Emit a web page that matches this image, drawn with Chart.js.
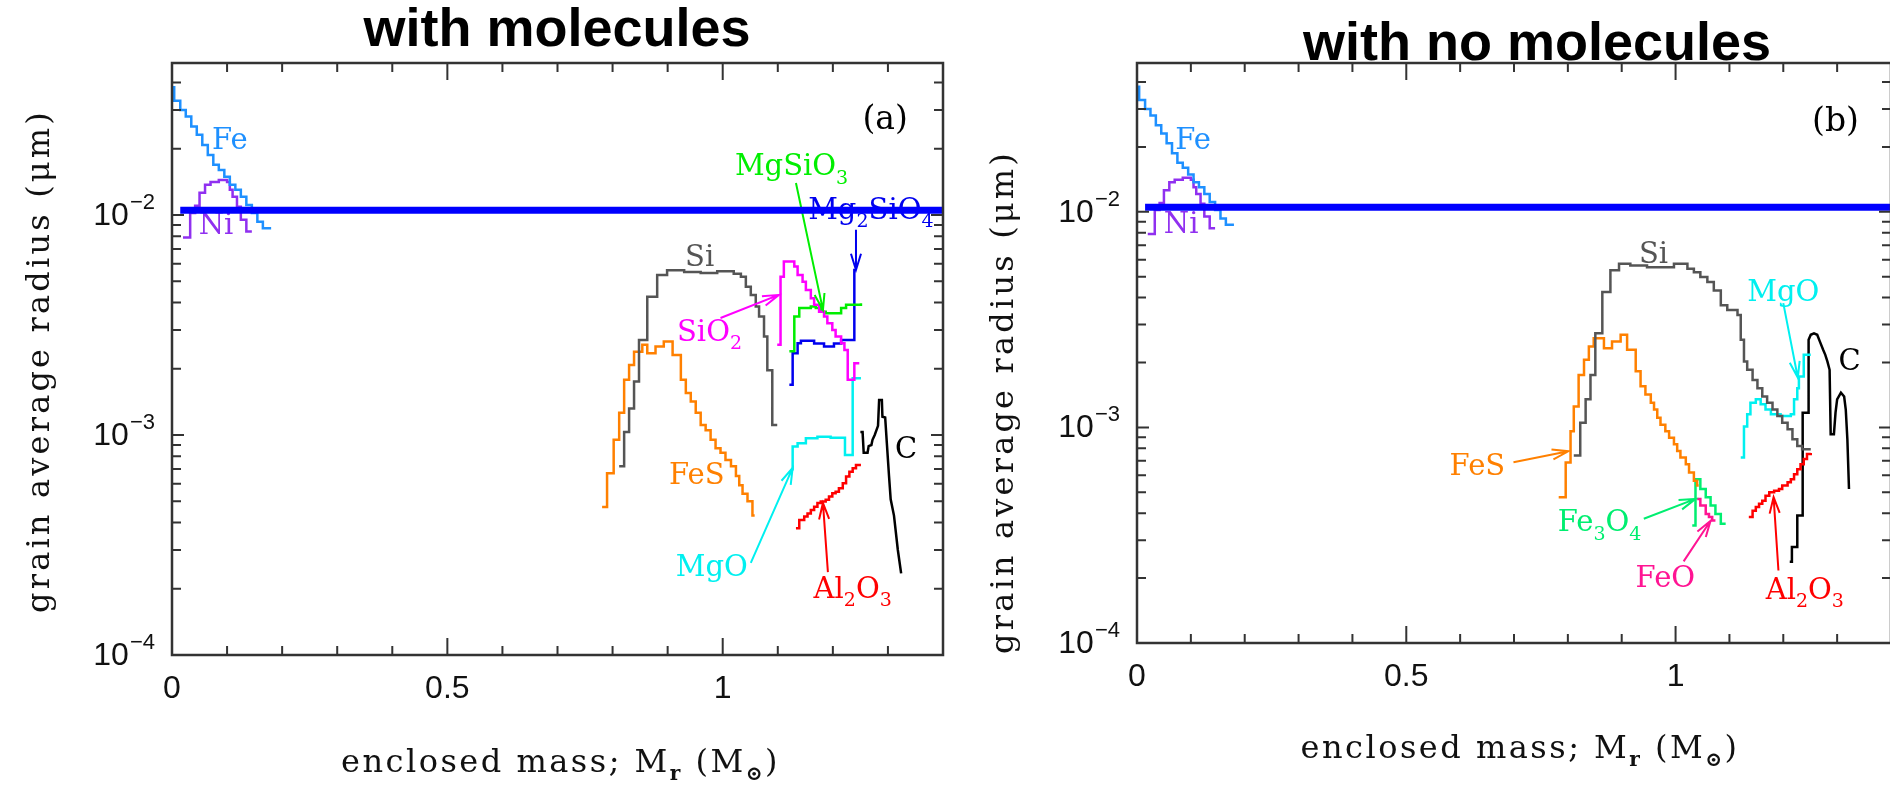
<!DOCTYPE html>
<html lang="en">
<head>
    <meta charset="UTF-8">
    <title>Grain average radius</title>
    <script src="https://cdn.jsdelivr.net/npm/chart.js"></script>
    <style>
        * { margin: 0; padding: 0; box-sizing: border-box; }
        body {
            background: #ffffff;
            width: 1890px;
            height: 785px;
            overflow: hidden;
            position: relative;
        }
        canvas { position: absolute; top: 0; }
        #chartA { left: 0; }
        #chartB { left: 960px; }
    </style>
</head>
<body>
    <canvas id="chartA" width="960" height="785"></canvas>
    <canvas id="chartB" width="935" height="785"></canvas>

    <script>
        // axis ticks
        const xMajorTicks = [0, 0.5, 1];
        const xTickLabels = ['0', '0.5', '1'];
        const yMajorTicks = [1e-4, 1e-3, 1e-2];
        const yTickExps = ['\u22124', '\u22123', '\u22122'];

        // thick reference line (both panels)
        const refMass = [0.015, 1.4];
        const refRadius = [0.0105, 0.0105];

        // Fe and Ni (same in both panels)
        const feMass = [0, 0.004, 0.015, 0.025, 0.035, 0.045, 0.055, 0.065, 0.075, 0.085, 0.095, 0.105, 0.115, 0.125, 0.135, 0.145, 0.155, 0.165, 0.18];
        const feRadius = [0.038, 0.033, 0.030, 0.028, 0.0252, 0.0231, 0.0208, 0.0187, 0.0169, 0.016, 0.0149, 0.0137, 0.013, 0.0121, 0.0111, 0.0102, 0.0093, 0.0087, 0.0087];
        const niMass = [0.02, 0.033, 0.042, 0.05, 0.06, 0.07, 0.085, 0.10, 0.105, 0.11, 0.118, 0.125, 0.135, 0.145];
        const niRadius = [0.0079, 0.0102, 0.011, 0.0126, 0.0137, 0.0141, 0.0144, 0.0141, 0.0130, 0.0121, 0.0109, 0.0095, 0.0084, 0.0084];

        // panel (a): with molecules
        const siMassA = [0.812, 0.821, 0.830, 0.839, 0.848, 0.863, 0.881, 0.899, 0.93, 0.96, 0.99, 1.02, 1.033, 1.042, 1.051, 1.06, 1.066, 1.075, 1.081, 1.09, 1.099];
        const siRadiusA = [7.2e-4, 1.03e-3, 1.32e-3, 1.75e-3, 2.7e-3, 4.25e-3, 5.33e-3, 5.6e-3, 5.5e-3, 5.45e-3, 5.55e-3, 5.4e-3, 5.24e-3, 4.72e-3, 4.33e-3, 3.83e-3, 3.45e-3, 2.8e-3, 1.97e-3, 1.11e-3, 1.11e-3];
        const fesMassA = [0.781, 0.790, 0.802, 0.812, 0.821, 0.830, 0.839, 0.854, 0.863, 0.878, 0.893, 0.909, 0.924, 0.933, 0.942, 0.951, 0.960, 0.969, 0.978, 0.987, 0.996, 1.005, 1.015, 1.024, 1.030, 1.036, 1.045, 1.054, 1.058];
        const fesRadiusA = [4.7e-4, 6.7e-4, 9.5e-4, 1.26e-3, 1.78e-3, 2.08e-3, 2.39e-3, 2.57e-3, 2.35e-3, 2.52e-3, 2.66e-3, 2.31e-3, 1.78e-3, 1.55e-3, 1.42e-3, 1.26e-3, 1.11e-3, 1.05e-3, 9.5e-4, 8.7e-4, 8.3e-4, 7.7e-4, 7.2e-4, 6.5e-4, 5.9e-4, 5.4e-4, 5.0e-4, 4.3e-4, 4.3e-4];
        const sio2MassA = [1.099, 1.105, 1.111, 1.121, 1.130, 1.136, 1.145, 1.151, 1.160, 1.166, 1.175, 1.184, 1.190, 1.199, 1.205, 1.215, 1.221, 1.227, 1.239, 1.248];
        const sio2RadiusA = [2.57e-3, 5.24e-3, 6.14e-3, 6.14e-3, 5.82e-3, 5.33e-3, 4.97e-3, 4.56e-3, 4.18e-3, 3.9e-3, 3.63e-3, 3.45e-3, 3.22e-3, 3.0e-3, 2.8e-3, 2.61e-3, 2.43e-3, 1.78e-3, 2.12e-3, 2.12e-3];
        const mgsio3MassA = [1.121, 1.130, 1.139, 1.160, 1.169, 1.178, 1.187, 1.209, 1.215, 1.224, 1.251];
        const mgsio3RadiusA = [2.4e-3, 3.45e-3, 3.77e-3, 3.83e-3, 3.77e-3, 3.63e-3, 3.57e-3, 3.57e-3, 3.77e-3, 3.9e-3, 3.97e-3];
        const mg2sio4MassA = [1.121, 1.127, 1.136, 1.142, 1.166, 1.184, 1.202, 1.215, 1.239, 1.242];
        const mg2sio4RadiusA = [1.69e-3, 2.35e-3, 2.61e-3, 2.68e-3, 2.6e-3, 2.52e-3, 2.6e-3, 2.7e-3, 5.62e-3, 5.62e-3];
        const mgoMassA = [1.127, 1.127, 1.136, 1.151, 1.172, 1.196, 1.222, 1.236, 1.251];
        const mgoRadiusA = [6.9e-4, 8.86e-4, 9.17e-4, 9.66e-4, 9.8e-4, 9.7e-4, 8.1e-4, 1.81e-3, 1.81e-3];
        const al2o3MassA = [1.133, 1.139, 1.148, 1.154, 1.160, 1.166, 1.172, 1.178, 1.187, 1.193, 1.199, 1.205, 1.211, 1.218, 1.224, 1.230, 1.236, 1.242, 1.251];
        const al2o3RadiusA = [3.77e-4, 4.11e-4, 4.26e-4, 4.4e-4, 4.56e-4, 4.72e-4, 4.9e-4, 4.98e-4, 5.07e-4, 5.25e-4, 5.43e-4, 5.52e-4, 5.73e-4, 6.03e-4, 6.47e-4, 6.81e-4, 7.05e-4, 7.31e-4, 7.31e-4];
        const cMassA = [1.250, 1.254, 1.256, 1.263, 1.265, 1.270, 1.272, 1.276, 1.282, 1.284, 1.289, 1.290, 1.295, 1.298, 1.302, 1.305, 1.311, 1.318, 1.324];
        const cRadiusA = [1.03e-3, 1.03e-3, 8.3e-4, 8.3e-4, 8.9e-4, 9.0e-4, 9.5e-4, 1.0e-3, 1.1e-3, 1.44e-3, 1.44e-3, 1.21e-3, 1.2e-3, 9.2e-4, 6.5e-4, 5.1e-4, 4.3e-4, 3.0e-4, 2.35e-4];

        // panel (b): with no molecules
        const siMassB = [0.811, 0.823, 0.833, 0.842, 0.851, 0.864, 0.879, 0.895, 0.916, 0.947, 0.997, 1.022, 1.034, 1.046, 1.059, 1.071, 1.084, 1.096, 1.115, 1.121, 1.127, 1.133, 1.143, 1.152, 1.161, 1.170, 1.180, 1.189, 1.198, 1.208, 1.217, 1.226, 1.235, 1.251];
        const siRadiusB = [7.4e-4, 1.05e-3, 1.35e-3, 1.75e-3, 2.73e-3, 4.25e-3, 5.35e-3, 5.74e-3, 5.64e-3, 5.53e-3, 5.74e-3, 5.45e-3, 5.25e-3, 4.98e-3, 4.72e-3, 4.32e-3, 3.69e-3, 3.5e-3, 3.32e-3, 2.55e-3, 2.02e-3, 1.85e-3, 1.66e-3, 1.52e-3, 1.39e-3, 1.3e-3, 1.21e-3, 1.13e-3, 1.05e-3, 9.8e-4, 8.8e-4, 8.2e-4, 7.92e-4, 7.92e-4];
        const fesMassB = [0.783, 0.796, 0.805, 0.811, 0.820, 0.830, 0.839, 0.848, 0.867, 0.882, 0.898, 0.910, 0.926, 0.935, 0.944, 0.954, 0.960, 0.966, 0.972, 0.981, 0.988, 0.997, 1.003, 1.009, 1.019, 1.025, 1.034, 1.040, 1.043];
        const fesRadiusB = [4.74e-4, 6.88e-4, 9.6e-4, 1.25e-3, 1.75e-3, 2.06e-3, 2.37e-3, 2.59e-3, 2.33e-3, 2.5e-3, 2.69e-3, 2.29e-3, 1.82e-3, 1.55e-3, 1.42e-3, 1.3e-3, 1.21e-3, 1.11e-3, 1.03e-3, 9.6e-4, 8.95e-4, 8.35e-4, 7.78e-4, 7.25e-4, 6.75e-4, 6.17e-4, 5.65e-4, 5.37e-4, 5.37e-4];
        const fe3o4MassB = [1.031, 1.037, 1.046, 1.056, 1.065, 1.074, 1.084, 1.093];
        const fe3o4RadiusB = [3.51e-4, 5.75e-4, 5.18e-4, 4.74e-4, 4.34e-4, 3.97e-4, 3.57e-4, 3.57e-4];
        const feoMassB = [1.040, 1.046, 1.056, 1.062, 1.068, 1.074];
        const feoRadiusB = [4.66e-4, 4.34e-4, 3.97e-4, 3.84e-4, 3.7e-4, 3.7e-4];
        const mgoMassB = [1.121, 1.127, 1.133, 1.139, 1.149, 1.158, 1.167, 1.177, 1.195, 1.214, 1.220, 1.226, 1.229, 1.235, 1.238, 1.251];
        const mgoRadiusB = [7.25e-4, 1.01e-3, 1.15e-3, 1.3e-3, 1.35e-3, 1.28e-3, 1.21e-3, 1.15e-3, 1.13e-3, 1.15e-3, 1.35e-3, 1.52e-3, 1.72e-3, 1.72e-3, 2.17e-3, 2.17e-3];
        const al2o3MassB = [1.136, 1.143, 1.149, 1.155, 1.161, 1.167, 1.174, 1.183, 1.192, 1.198, 1.208, 1.214, 1.220, 1.226, 1.232, 1.238, 1.244, 1.251];
        const al2o3RadiusB = [3.84e-4, 4.11e-4, 4.27e-4, 4.42e-4, 4.57e-4, 4.82e-4, 5.0e-4, 5.08e-4, 5.18e-4, 5.37e-4, 5.56e-4, 5.75e-4, 6.07e-4, 6.4e-4, 6.75e-4, 7.13e-4, 7.52e-4, 7.6e-4];
        const cMassB = [1.212, 1.216, 1.216, 1.226, 1.226, 1.236, 1.236, 1.247, 1.247, 1.251, 1.257, 1.263, 1.268, 1.274, 1.278, 1.282, 1.286, 1.288, 1.294, 1.297, 1.300, 1.307, 1.313, 1.316, 1.319, 1.322];
        const cRadiusB = [2.38e-4, 2.38e-4, 2.79e-4, 2.79e-4, 3.9e-4, 3.9e-4, 1.17e-3, 1.17e-3, 2.55e-3, 2.69e-3, 2.73e-3, 2.69e-3, 2.5e-3, 2.29e-3, 2.17e-3, 2.02e-3, 1.85e-3, 9.3e-4, 9.3e-4, 1.17e-3, 1.35e-3, 1.45e-3, 1.39e-3, 1.21e-3, 8.8e-4, 5.18e-4];

        const COL = {
            fe: '#1e90ff', ni: '#9030f0', si: '#555555', fes: '#ff8000', sio2: '#ff00ff',
            mgsio3: '#00ee00', mg2sio4: '#0000ee', mgo: '#00f0f0', al2o3: '#ff0000', c: '#000000',
            fe3o4: '#00ee70', feo: '#ff1493', ref: '#0000ff'
        };

        function pts(xs, ys) {
            return xs.map((x, i) => ({ x: x, y: ys[i] }));
        }

        function line(label, xs, ys, color, stepped, width) {
            return {
                label: label,
                data: pts(xs, ys),
                borderColor: color,
                backgroundColor: color,
                borderWidth: width || 2.5,
                stepped: stepped === false ? false : 'before',
                pointRadius: 0,
                fill: false
            };
        }

        // split "Mg_2SiO_4" into normal / subscript parts
        function parts(s) {
            const out = [];
            let buf = '';
            for (let i = 0; i < s.length; i++) {
                if (s[i] === '_') {
                    if (buf) out.push([buf, false]);
                    buf = '';
                    out.push([s[i + 1], true]);
                    i++;
                } else {
                    buf += s[i];
                }
            }
            if (buf) out.push([buf, false]);
            return out;
        }

        function drawChem(ctx, text, cx, cy, color, size) {
            const big = size + 'px "DejaVu Serif"';
            const small = Math.round(size * 0.66) + 'px "DejaVu Serif"';
            const p = parts(text);
            let total = 0;
            p.forEach(([t, sub]) => {
                ctx.font = sub ? small : big;
                total += ctx.measureText(t).width;
            });
            let x = cx - total / 2;
            ctx.fillStyle = color;
            ctx.textAlign = 'left';
            ctx.textBaseline = 'alphabetic';
            p.forEach(([t, sub]) => {
                ctx.font = sub ? small : big;
                ctx.fillText(t, x, cy + size * 0.37 + (sub ? size * 0.28 : 0));
                x += ctx.measureText(t).width;
            });
        }

        function drawArrow(ctx, x1, y1, x2, y2, color) {
            const ang = Math.atan2(y2 - y1, x2 - x1);
            const head = 17, spread = 0.3;
            ctx.strokeStyle = color;
            ctx.lineWidth = 2;
            ctx.beginPath();
            ctx.moveTo(x1, y1);
            ctx.lineTo(x2, y2);
            ctx.moveTo(x2 - head * Math.cos(ang - spread), y2 - head * Math.sin(ang - spread));
            ctx.lineTo(x2, y2);
            ctx.lineTo(x2 - head * Math.cos(ang + spread), y2 - head * Math.sin(ang + spread));
            ctx.stroke();
        }

        // letter spacing that stretches the segments to a wanted width
        function fitSpacing(ctx, segs, target) {
            ctx.letterSpacing = '0px';
            let w = 0, n = 0;
            segs.forEach(([t, font]) => {
                ctx.font = font;
                w += ctx.measureText(t).width;
                n += t.length;
            });
            return Math.max(0, (target - w) / n);
        }

        const TITLE_FONT = '32px "DejaVu Serif"';
        const SUBT_FONT = 'bold 20px "DejaVu Serif"';

        const framePlugin = {
            id: 'frame',
            // labels go under the thick reference line (dataset 0 is drawn last)
            beforeDatasetDraw(chart, args, opts) {
                if (args.index !== 0) return;
                const ctx = chart.ctx;
                const xs = chart.scales.x, ys = chart.scales.y;
                ctx.save();
                opts.arrows.forEach(a => {
                    drawArrow(ctx, xs.getPixelForValue(a.x1), ys.getPixelForValue(a.y1),
                        xs.getPixelForValue(a.x2), ys.getPixelForValue(a.y2), a.c);
                });
                opts.labels.forEach(l => {
                    drawChem(ctx, l.t, xs.getPixelForValue(l.x), ys.getPixelForValue(l.y), l.c, l.s || 29);
                });
                ctx.restore();
            },
            afterDraw(chart, args, opts) {
                const ctx = chart.ctx;
                const a = chart.chartArea;
                const xs = chart.scales.x, ys = chart.scales.y;
                ctx.save();
                ctx.strokeStyle = '#333333';
                ctx.lineWidth = 2.5;
                ctx.strokeRect(a.left, a.top, a.right - a.left, a.bottom - a.top);

                // x ticks, inward on bottom and top
                ctx.lineWidth = 2;
                ctx.beginPath();
                for (let k = 0; k <= 14; k++) {
                    const px = xs.getPixelForValue(k / 10);
                    const len = (k % 5 === 0) ? 17 : 9;
                    ctx.moveTo(px, a.bottom); ctx.lineTo(px, a.bottom - len);
                    ctx.moveTo(px, a.top); ctx.lineTo(px, a.top + len);
                }
                // y ticks, inward on left and right
                for (let e = -4; e <= -2; e++) {
                    for (let m = 1; m <= 9; m++) {
                        const v = m * Math.pow(10, e);
                        if (v > ys.max * 1.0001) continue;
                        const py = ys.getPixelForValue(v);
                        const len = (m === 1) ? 12 : 9;
                        ctx.moveTo(a.left, py); ctx.lineTo(a.left + len, py);
                        ctx.moveTo(a.right, py); ctx.lineTo(a.right - len, py);
                    }
                }
                ctx.stroke();

                // tick labels
                ctx.fillStyle = '#111111';
                ctx.textAlign = 'center';
                ctx.textBaseline = 'middle';
                ctx.font = '32px "Liberation Sans", Arial, sans-serif';
                xMajorTicks.forEach((v, i) => {
                    ctx.fillText(xTickLabels[i], xs.getPixelForValue(v), a.bottom + 34);
                });
                yMajorTicks.forEach((v, i) => {
                    const py = ys.getPixelForValue(v);
                    ctx.font = '22px "Liberation Sans", Arial, sans-serif';
                    const wSup = ctx.measureText(yTickExps[i]).width;
                    const supX = a.left - 17 - wSup;
                    ctx.textAlign = 'left';
                    ctx.fillText(yTickExps[i], supX, py - 12);
                    ctx.font = '32px "Liberation Sans", Arial, sans-serif';
                    ctx.textAlign = 'right';
                    ctx.fillText('10', supX - 1, py + 1);
                });

                // x title with subscripts
                ctx.textBaseline = 'alphabetic';
                ctx.textAlign = 'left';
                const segs = [['enclosed mass; M', TITLE_FONT], ['r', SUBT_FONT], [' (M', TITLE_FONT], ['\u2299', SUBT_FONT], [')', TITLE_FONT]];
                const sp = fitSpacing(ctx, segs, 439);
                ctx.letterSpacing = sp + 'px';
                let tw = 0;
                segs.forEach(([t, f]) => { ctx.font = f; tw += ctx.measureText(t).width; });
                let tx = (a.left + a.right) / 2 + opts.xTitleShift - tw / 2;
                const ty = a.bottom + opts.xTitleDy;
                segs.forEach(([t, f]) => {
                    ctx.font = f;
                    ctx.fillText(t, tx, ty + (f === SUBT_FONT ? 8 : 0));
                    tx += ctx.measureText(t).width;
                });

                // y title
                const yText = 'grain average radius (\u03bcm)';
                const sy = fitSpacing(ctx, [[yText, TITLE_FONT]], 504);
                ctx.letterSpacing = sy + 'px';
                ctx.font = TITLE_FONT;
                ctx.save();
                ctx.translate(opts.yTitleX, opts.yTitleY);
                ctx.rotate(-Math.PI / 2);
                ctx.textAlign = 'center';
                ctx.fillText(yText, 0, 0);
                ctx.restore();

                // panel heading
                ctx.letterSpacing = '0px';
                ctx.font = 'bold 54px "Liberation Sans", Arial, sans-serif';
                ctx.textAlign = 'center';
                ctx.fillStyle = '#000000';
                ctx.fillText(opts.heading, opts.headX, opts.headY);
                ctx.restore();
            }
        };

        function sharedSets() {
            return [
                line('Fe', feMass, feRadius, COL.fe),
                line('Ni', niMass, niRadius, COL.ni)
            ];
        }

        function makeChart(id, datasets, pad, frameOpts) {
            return new Chart(document.getElementById(id), {
                type: 'line',
                data: { datasets: datasets },
                options: {
                    responsive: false,
                    animation: false,
                    devicePixelRatio: 1,
                    layout: { padding: pad },
                    plugins: {
                        legend: { display: false },
                        tooltip: { enabled: false },
                        frame: frameOpts
                    },
                    scales: {
                        x: { type: 'linear', min: 0, max: 1.4, display: false },
                        y: { type: 'logarithmic', min: 1e-4, max: 0.049, display: false }
                    }
                },
                plugins: [framePlugin]
            });
        }

        makeChart('chartA', [
            line('ref', refMass, refRadius, COL.ref, false, 7),
            ...sharedSets(),
            line('Si', siMassA, siRadiusA, COL.si),
            line('FeS', fesMassA, fesRadiusA, COL.fes),
            line('SiO2', sio2MassA, sio2RadiusA, COL.sio2),
            line('MgSiO3', mgsio3MassA, mgsio3RadiusA, COL.mgsio3),
            line('Mg2SiO4', mg2sio4MassA, mg2sio4RadiusA, COL.mg2sio4),
            line('MgO', mgoMassA, mgoRadiusA, COL.mgo),
            line('Al2O3', al2o3MassA, al2o3RadiusA, COL.al2o3),
            line('C', cMassA, cRadiusA, COL.c, false)
        ], { left: 172, top: 63, right: 17, bottom: 130 }, {
            heading: 'with molecules', headX: 557, headY: 46,
            xTitleShift: 3, xTitleDy: 117, yTitleX: 49, yTitleY: 361,
            labels: [
                { t: 'Fe', x: 0.105, y: 0.0224, c: COL.fe },
                { t: 'Ni', x: 0.08, y: 0.0092, c: COL.ni },
                { t: 'Si', x: 0.958, y: 6.58e-3, c: COL.si },
                { t: 'MgSiO_3', x: 1.125, y: 0.0169, c: COL.mgsio3 },
                { t: 'Mg_2SiO_4', x: 1.269, y: 0.01076, c: COL.mg2sio4 },
                { t: 'SiO_2', x: 0.976, y: 3.0e-3, c: COL.sio2 },
                { t: 'FeS', x: 0.953, y: 6.7e-4, c: COL.fes },
                { t: 'MgO', x: 0.98, y: 2.57e-4, c: COL.mgo },
                { t: 'Al_2O_3', x: 1.236, y: 2.03e-4, c: COL.al2o3 },
                { t: 'C', x: 1.333, y: 8.8e-4, c: COL.c },
                { t: '(a)', x: 1.295, y: 0.0279, c: '#000000', s: 33 }
            ],
            arrows: [
                { x1: 1.133, y1: 0.01396, x2: 1.182, y2: 3.7e-3, c: COL.mgsio3 },
                { x1: 1.242, y1: 8.55e-3, x2: 1.242, y2: 5.62e-3, c: COL.mg2sio4 },
                { x1: 0.996, y1: 3.4e-3, x2: 1.102, y2: 4.33e-3, c: COL.sio2 },
                { x1: 1.051, y1: 2.62e-4, x2: 1.127, y2: 7.08e-4, c: COL.mgo },
                { x1: 1.191, y1: 2.38e-4, x2: 1.182, y2: 4.91e-4, c: COL.al2o3 }
            ]
        });

        makeChart('chartB', [
            line('ref', refMass, refRadius, COL.ref, false, 7),
            ...sharedSets(),
            line('Si', siMassB, siRadiusB, COL.si),
            line('FeS', fesMassB, fesRadiusB, COL.fes),
            line('Fe3O4', fe3o4MassB, fe3o4RadiusB, COL.fe3o4),
            line('FeO', feoMassB, feoRadiusB, COL.feo),
            line('MgO', mgoMassB, mgoRadiusB, COL.mgo),
            line('Al2O3', al2o3MassB, al2o3RadiusB, COL.al2o3),
            line('C', cMassB, cRadiusB, COL.c, false)
        ], { left: 177, top: 63, right: 4, bottom: 142 }, {
            heading: 'with no molecules', headX: 577, headY: 60,
            xTitleShift: 6, xTitleDy: 115, yTitleX: 53, yTitleY: 402,
            labels: [
                { t: 'Fe', x: 0.104, y: 0.0219, c: COL.fe },
                { t: 'Ni', x: 0.082, y: 8.9e-3, c: COL.ni },
                { t: 'Si', x: 0.959, y: 6.48e-3, c: COL.si },
                { t: 'MgO', x: 1.2, y: 4.33e-3, c: COL.mgo },
                { t: 'C', x: 1.323, y: 2.06e-3, c: COL.c },
                { t: 'FeS', x: 0.632, y: 6.76e-4, c: COL.fes },
                { t: 'Fe_3O_4', x: 0.859, y: 3.69e-4, c: COL.fe3o4 },
                { t: 'FeO', x: 0.981, y: 2.04e-4, c: COL.feo },
                { t: 'Al_2O_3', x: 1.24, y: 1.79e-4, c: COL.al2o3 },
                { t: '(b)', x: 1.297, y: 0.0271, c: '#000000', s: 33 }
            ],
            arrows: [
                { x1: 1.2, y1: 3.77e-3, x2: 1.227, y2: 1.7e-3, c: COL.mgo },
                { x1: 0.699, y1: 6.9e-4, x2: 0.801, y2: 7.75e-4, c: COL.fes },
                { x1: 0.941, y1: 3.77e-4, x2: 1.037, y2: 4.66e-4, c: COL.fe3o4 },
                { x1: 1.015, y1: 2.39e-4, x2: 1.065, y2: 3.69e-4, c: COL.feo },
                { x1: 1.191, y1: 2.17e-4, x2: 1.182, y2: 4.75e-4, c: COL.al2o3 }
            ]
        });
    </script>
</body>
</html>
